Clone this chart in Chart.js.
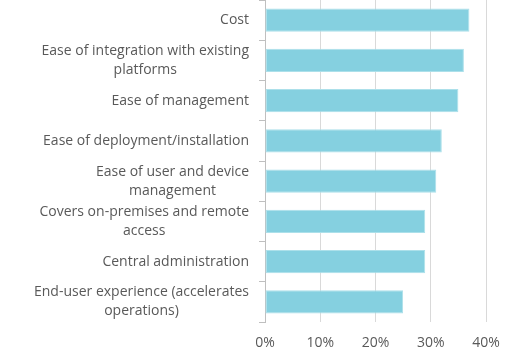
<!DOCTYPE html>
<html>
<head>
<meta charset="utf-8">
<script src="https://cdn.jsdelivr.net/npm/chart.js@4"></script>
<style>
  html, body { margin: 0; padding: 0; background: #fff; }
  #wrap { width: 506px; height: 350px; }
</style>
</head>
<body>
<div id="wrap"><canvas id="myChart" width="506" height="350"></canvas></div>
<script>
// categories, top to bottom
const categorias = [
  ['Cost'],
  ['Ease of integration with existing', 'platforms'],
  ['Ease of management'],
  ['Ease of deployment/installation'],
  ['Ease of user and device', 'management'],
  ['Covers on-premises and remote', 'access'],
  ['Central administration'],
  ['End-user experience (accelerates', 'operations)']
];
// share of respondents, %
const valores = [37, 36, 35, 32, 31, 29, 29, 25];
const ticksX = [0, 10, 20, 30, 40];

const fuente = '"Open Sans", "Noto Sans", sans-serif';

// draws the category labels: block right-aligned, lines centered inside it
const etiquetasY = {
  id: 'etiquetasY',
  afterDraw(chart) {
    const ctx = chart.ctx;
    const y = chart.scales.y;
    ctx.save();
    ctx.font = '14px ' + fuente;
    ctx.fillStyle = '#595959';
    ctx.textAlign = 'center';
    ctx.textBaseline = 'middle';
    const derecha = 249;
    const alto = 19;
    categorias.forEach((lineas, i) => {
      const ancho = Math.max(...lineas.map(l => ctx.measureText(l).width));
      const cx = derecha - ancho / 2;
      const cy = y.getPixelForValue(i);
      lineas.forEach((l, j) => {
        ctx.fillText(l, cx, cy + (j - (lineas.length - 1) / 2) * alto);
      });
    });
    ctx.restore();
  }
};

const ctx = document.getElementById('myChart');
new Chart(ctx, {
  type: 'bar',
  data: {
    labels: categorias.map(c => c.join(' ')),
    datasets: [{
      data: valores,
      backgroundColor: '#85d0e0',
      borderColor: '#ace0ea',
      borderWidth: 1,
      borderSkipped: false,
      categoryPercentage: 0.8,
      barPercentage: 0.72
    }]
  },
  options: {
    indexAxis: 'y',
    responsive: false,
    animation: false,
    layout: { padding: { top: 0, right: 20, left: 0, bottom: 0 } },
    plugins: {
      legend: { display: false },
      tooltip: { enabled: false }
    },
    scales: {
      x: {
        min: 0,
        max: 40,
        afterBuildTicks: (s) => { s.ticks = ticksX.map(v => ({ value: v })); },
        afterFit: (s) => { s.height = 28; s.paddingRight = 0; s.paddingLeft = 0; },
        grid: { color: '#d9d9d9', lineWidth: 1, drawTicks: false },
        border: { display: false },
        ticks: {
          padding: 13,
          color: '#595959',
          font: { family: fuente, size: 14 },
          callback: (v) => v + '%'
        }
      },
      y: {
        afterFit: (s) => { s.width = 265; },
        grid: { drawOnChartArea: false, tickLength: 6, color: '#bfbfbf' },
        border: { display: true, color: '#bfbfbf' },
        ticks: { display: false }
      }
    }
  },
  plugins: [etiquetasY]
});
</script>
</body>
</html>
